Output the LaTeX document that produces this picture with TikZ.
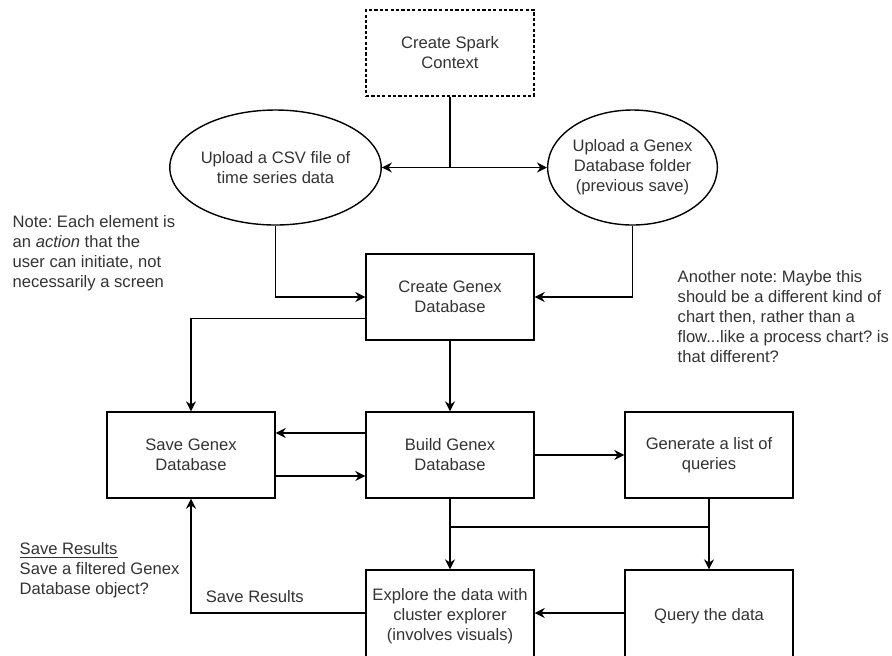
\documentclass[tikz,border=0pt]{standalone}
\usepackage{fontspec}
\setmainfont{Liberation Sans}
\frenchspacing
\usepackage{tikz}
\usetikzlibrary{arrows.meta}
\usetikzlibrary{positioning}
\usetikzlibrary{shapes.geometric}
\newcommand{\txt}{\fontsize{8.3}{10}\selectfont}
\tikzset{
	stepbox/.style={draw, rectangle, minimum width=84pt, minimum height=43pt, inner sep=0pt, align=center, font=\txt, text=black!80},
	upload/.style={draw, ellipse, minimum width=84.5pt, minimum height=57.5pt, inner sep=0pt, align=center, font=\txt, text=black!80},
	remark/.style={align=left, inner sep=0pt, anchor=west, font=\txt, text=black!80}
}

\begin{document}
\begin{tikzpicture}[x=0.5pt, y=-0.5pt, line width=0.7pt]
		\tikzset{>={Stealth[length=5pt,width=5pt]}}
		\useasboundingbox (0,0) rectangle (892,655);
		\clip (0,0) rectangle (892,655);
		
		\node[stepbox, dash pattern=on 1.6pt off 1.1pt] (spark) at (450,53) {Create Spark\\Context};
		\node[upload] (csv) at (275.5,167.5) {Upload a CSV file of\\time series data};
		\node[upload] (folder) at (632.5,167.5) {Upload a Genex\\Database folder\\(previous save)};
		
		\node[stepbox] (create) at (450,297) {Create Genex\\Database};
		\node[stepbox] (save) at (191,455) {Save Genex\\Database};
		\node[stepbox] (build) at (450,455) {Build Genex\\Database};
		\node[stepbox] (queries) at (709,455) {Generate a list of\\queries};
		% bottom row runs past the lower edge
		\node[stepbox, minimum height=46pt] (explore) at (450,616) {Explore the data with\\cluster explorer\\(involves visuals)};
		\node[stepbox, minimum height=46pt] (query) at (709,616) {Query the data};
		
		\coordinate (split) at (450,527);
		
		\draw[->] (spark.south) |- (csv.east);
		\draw[->] (spark.south) |- (folder.west);
		\draw[->] (csv.south) |- (create.west);
		\draw[->] (folder.south) |- (create.east);
		\draw[->] ([yshift=11pt]create.south west) -| (save.north);
		\draw[->] (create) -- (build);
		\draw[->] ([yshift=11pt]build.west) -- ([yshift=11pt]save.east);
		\draw[->] ([yshift=-10.5pt]save.east) -- ([yshift=-10.5pt]build.west);
		\draw[->] (build) -- (queries);
		\draw[->] (build) -- (explore);
		\draw[->] (queries) -- (query);
		\draw (split) -- (split -| query.north);
		\draw[->] ([yshift=1.5pt]query.west) -- ([yshift=1.5pt]explore.east);
		\draw[->] ([yshift=1.5pt]explore.west) -| node[pos=0.317, above=1.5pt, font=\txt, text=black!80] (saveres) {Save Results} (save.south);
		
		% notes
		\node[remark] (note) at (12,253) {Note: Each element is\\an \textit{action} that the\\user can initiate, not\\necessarily a screen};
		\node[remark] (another) at (677,317) {Another note: Maybe this\\should be a different kind of\\chart then, rather than a\\flow...like a process chart? is\\that different?};
		\node[remark] (filtered) at (19,570) {\underline{Save Results}\\Save a filtered Genex\\Database object?};
\end{tikzpicture}
\end{document}
